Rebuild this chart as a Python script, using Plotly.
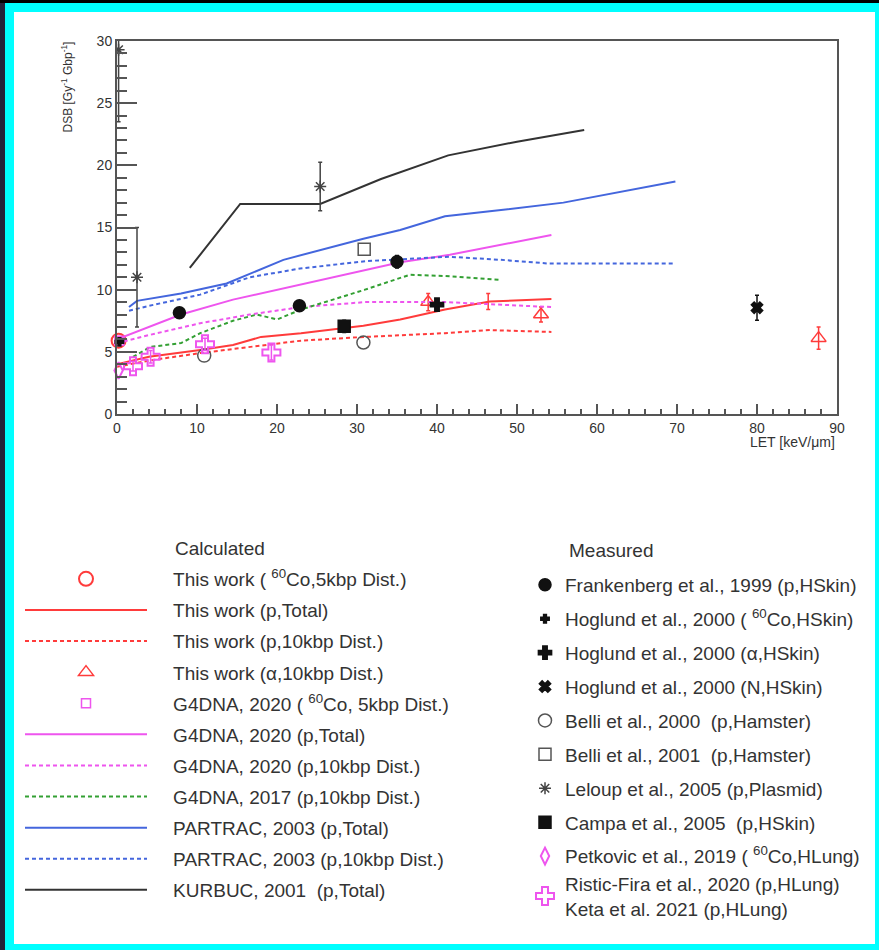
import plotly.graph_objects as go

# ---------------- Calculated curves ----------------
tw_total_x = [0, 4, 10.4, 14.5, 18, 23, 30.8, 35.4, 41, 46.6, 54.3]
tw_total_y = [4.0, 4.6, 5.15, 5.55, 6.2, 6.5, 7.1, 7.6, 8.4, 9.05, 9.25]
tw_10k_x = [0, 4, 10.4, 16.6, 23, 31, 41, 46.6, 54.3]
tw_10k_y = [3.8, 4.3, 4.9, 5.4, 5.9, 6.2, 6.5, 6.75, 6.6]
g20_total_x = [0, 2, 8, 14.5, 23, 31.2, 35.4, 41.6, 54.3]
g20_total_y = [6.0, 6.5, 8.0, 9.2, 10.4, 11.6, 12.2, 12.8, 14.4]
g20_10k_x = [0, 4, 10.4, 16.6, 23, 31, 41, 46.6, 54.3]
g20_10k_y = [5.7, 6.35, 7.3, 8.0, 8.6, 9.0, 9.0, 8.85, 8.6]
g17_10k_x = [2, 4.2, 8, 10.4, 14.5, 17.5, 20, 23, 31, 36.6, 41, 47.7]
g17_10k_y = [4.6, 5.4, 5.7, 6.5, 7.5, 8.0, 7.6, 8.4, 10.0, 11.2, 11.1, 10.8]
partrac_total_x = [1.5, 2.5, 8, 13.7, 20.8, 30.8, 35.4, 41, 46.6, 55.8, 69.8]
partrac_total_y = [8.6, 9.1, 9.7, 10.5, 12.4, 14.1, 14.8, 15.9, 16.3, 17.0, 18.7]
partrac_10k_x = [1.5, 4, 10.4, 16.6, 22.9, 31.2, 41.5, 48, 54, 69.8]
partrac_10k_y = [8.3, 8.7, 9.6, 11.0, 11.7, 12.3, 12.65, 12.4, 12.1, 12.1]
kurbuc_x = [9.1, 15.4, 25.4, 33, 41.4, 50, 58.4]
kurbuc_y = [11.75, 16.9, 16.9, 18.9, 20.8, 21.9, 22.85]

tw_co_x = [0.2]
tw_co_y = [5.9]
tw_alpha_x = [38.9, 53.0, 87.7]
tw_alpha_y = [9.0, 8.0, 6.1]
tw_alpha_err = [0.7, 0.6, 0.9]
tw_alpha_hidden_x = [46.4]
tw_alpha_hidden_y = [9.05]
tw_alpha_hidden_err = [0.65]
g20_co_x = [0.3]
g20_co_y = [5.9]

# ---------------- Measured ----------------
frank_x = [7.8, 22.8, 35.0]
frank_y = [8.15, 8.7, 12.25]
frank_err = [0.0, 0.0, 0.5]
hog_co_x = [0.3]
hog_co_y = [5.8]
hog_a_x = [40.0]
hog_a_y = [8.8]
hog_n_x = [80.0]
hog_n_y = [8.55]
hog_n_err = [1.0]
belli00_x = [10.9, 30.8]
belli00_y = [4.7, 5.75]
belli01_x = [30.9]
belli01_y = [13.25]
leloup_x = [0.2, 2.5, 25.4]
leloup_y = [29.3, 11.0, 18.3]
leloup_err = [5.8, 4.0, 1.95]
campa_x = [28.4]
campa_y = [7.05]
campa_err = [0.5]
petk_x = [0.2]
petk_y = [3.5]
ristic_x = [2.0, 4.2, 11.0, 19.3]
ristic_y = [3.85, 4.6, 5.6, 4.95]
ristic_err = [0.4, 0.5, 0.5, 0.6]

RED = "#ff3b3b"
MAG = "#ee55ee"
GREEN = "#33a033"
BLUE = "#4466dd"
BLK = "#333333"
DOT = "4px,3px"
PAD = "\u00a0" * 4

fig = go.Figure()

def line(x, y, name, color, dash, group):
    fig.add_trace(go.Scatter(x=x, y=y, mode="lines", name=PAD + name,
                             line=dict(color=color, width=2, dash=dash),
                             legend="legend", legendgroup=group))

def mark(x, y, name, symbol, color, size, legend, group, err=None,
         lw=1.5, clip=False, show=True, opacity=1):
    m = dict(symbol=symbol, size=size, color=color, opacity=opacity,
             line=dict(color=color, width=lw))
    kw = {}
    if err is not None:
        kw["error_y"] = dict(type="data", array=err, visible=True,
                             color=color, thickness=1.5, width=2)
    fig.add_trace(go.Scatter(x=x, y=y, mode="markers", name=name, marker=m,
                             legend=legend, legendgroup=group, showlegend=show,
                             cliponaxis=clip, **kw))

# Calculated (legend 1)
mark(tw_co_x, tw_co_y, PAD + "This work ( <sup>60</sup>Co,5kbp Dist.)", "circle-open", RED, 14, "legend", "c1", lw=2)
line(tw_total_x, tw_total_y, "This work (p,Total)", RED, "solid", "c2")
line(tw_10k_x, tw_10k_y, "This work (p,10kbp Dist.)", RED, DOT, "c3")
mark(tw_alpha_x, tw_alpha_y, PAD + "This work (α,10kbp Dist.)", "triangle-up-open", RED, 13, "legend", "c4", err=tw_alpha_err)
mark(tw_alpha_hidden_x, tw_alpha_hidden_y, "hidden", "triangle-up-open", RED, 13, "legend", "c4",
     err=tw_alpha_hidden_err, show=False, opacity=0)
mark(g20_co_x, g20_co_y, PAD + "G4DNA, 2020 ( <sup>60</sup>Co, 5kbp Dist.)", "square-open", MAG, 9, "legend", "c5")
line(g20_total_x, g20_total_y, "G4DNA, 2020 (p,Total)", MAG, "solid", "c6")
line(g20_10k_x, g20_10k_y, "G4DNA, 2020 (p,10kbp Dist.)", MAG, DOT, "c7")
line(g17_10k_x, g17_10k_y, "G4DNA, 2017 (p,10kbp Dist.)", GREEN, DOT, "c8")
line(partrac_total_x, partrac_total_y, "PARTRAC, 2003 (p,Total)", BLUE, "solid", "c9")
line(partrac_10k_x, partrac_10k_y, "PARTRAC, 2003 (p,10kbp Dist.)", BLUE, DOT, "c10")
line(kurbuc_x, kurbuc_y, "KURBUC, 2001  (p,Total)", BLK, "solid", "c11")

# Measured (legend 2)
mark(frank_x, frank_y, "Frankenberg et al., 1999 (p,HSkin)", "circle", "#111111", 12, "legend2", "m1", err=frank_err)
mark(hog_co_x, hog_co_y, "Hoglund et al., 2000 ( <sup>60</sup>Co,HSkin)", "cross", "#111111", 7, "legend2", "m2")
mark(hog_a_x, hog_a_y, "Hoglund et al., 2000 (α,HSkin)", "cross", "#111111", 11, "legend2", "m3")
mark(hog_n_x, hog_n_y, "Hoglund et al., 2000 (N,HSkin)", "x", "#111111", 10, "legend2", "m4", err=hog_n_err)
mark(belli00_x, belli00_y, "Belli et al., 2000  (p,Hamster)", "circle-open", "#555555", 13, "legend2", "m5")
mark(belli01_x, belli01_y, "Belli et al., 2001  (p,Hamster)", "square-open", "#555555", 12, "legend2", "m6")
mark(leloup_x, leloup_y, "Leloup et al., 2005 (p,Plasmid)", "asterisk-open", "#444444", 10, "legend2", "m7",
     err=leloup_err, clip=True)
mark(campa_x, campa_y, "Campa et al., 2005  (p,HSkin)", "square", "#111111", 12, "legend2", "m8", err=campa_err)
mark(petk_x, petk_y, "Petkovic et al., 2019 ( <sup>60</sup>Co,HLung)", "diamond-tall-open", MAG, 12, "legend2", "m9", lw=2)
mark(ristic_x, ristic_y, "Ristic-Fira et al., 2020 (p,HLung)<br>Keta et al. 2021 (p,HLung)", "cross-open", MAG, 15,
     "legend2", "m9", err=ristic_err, lw=2)

W, H = 879, 950
L, R, T, B = 117, 42, 41, 536
PW, PH = W - L - R, H - T - B

def px(xp):
    return (xp - L) / PW

def py(yp):
    return 1 - (yp - T) / PH

shapes = [
    dict(type="rect", xref="paper", yref="paper", x0=px(0), x1=px(5), y0=py(950), y1=py(0),
         fillcolor="#23233a", line=dict(width=0), layer="below"),
    dict(type="rect", xref="paper", yref="paper", x0=px(0), x1=px(879), y0=py(3), y1=py(0),
         fillcolor="#000000", line=dict(width=0), layer="below"),
    dict(type="rect", xref="paper", yref="paper", x0=px(14), x1=px(875), y0=py(944), y1=py(12),
         fillcolor="#ffffff", line=dict(width=0), layer="below"),
]

font_fam = "Liberation Sans, Arial, sans-serif"
LFS = 19
axis_common = dict(showline=True, linecolor="#555555", linewidth=2, mirror=True,
                   ticks="inside", tickcolor="#555555", tickwidth=1.5,
                   showgrid=False, zeroline=False,
                   tickfont=dict(family=font_fam, size=14, color="#333333"))

fig.update_layout(
    width=W, height=H,
    margin=dict(l=L, r=R, t=T, b=B, pad=0, autoexpand=False),
    paper_bgcolor="#00ffff",
    plot_bgcolor="#ffffff",
    shapes=shapes,
    xaxis=dict(range=[0, 90], dtick=10, tick0=0, ticklen=10,
               minor=dict(dtick=2, ticks="inside", ticklen=5, tickcolor="#555555", tickwidth=1.5),
               **axis_common),
    yaxis=dict(range=[0, 30], dtick=5, tick0=0, ticklen=20,
               minor=dict(dtick=1, ticks="inside", ticklen=10, tickcolor="#555555", tickwidth=1.5),
               **axis_common),
    legend=dict(xref="container", yref="container", x=20 / W, y=1 - 560 / H,
                xanchor="left", yanchor="top", itemwidth=122,
                traceorder="grouped", tracegroupgap=3.4,
                bgcolor="rgba(0,0,0,0)",
                font=dict(family=font_fam, size=LFS, color="#333333")),
    legend2=dict(xref="container", yref="container", x=525 / W, y=1 - 566 / H,
                 xanchor="left", yanchor="top", itemwidth=30,
                 traceorder="grouped", tracegroupgap=6.2,
                 bgcolor="rgba(0,0,0,0)",
                 font=dict(family=font_fam, size=LFS, color="#333333")),
    annotations=[
        dict(text="DSB [Gy<sup>-1</sup> Gbp<sup>-1</sup>]", textangle=-90,
             xref="paper", yref="paper", x=px(66), y=py(40), xanchor="center", yanchor="top",
             showarrow=False, font=dict(family=font_fam, size=12, color="#333333")),
        dict(text="LET [keV/μm]", xref="paper", yref="paper", x=1, y=py(432),
             xanchor="right", yanchor="top", showarrow=False,
             font=dict(family=font_fam, size=14, color="#333333")),
        dict(text="Calculated", xref="paper", yref="paper", x=px(173), y=py(548),
             xanchor="left", yanchor="middle", showarrow=False,
             font=dict(family=font_fam, size=LFS, color="#333333")),
        dict(text="Measured", xref="paper", yref="paper", x=px(567), y=py(550),
             xanchor="left", yanchor="middle", showarrow=False,
             font=dict(family=font_fam, size=LFS, color="#333333")),
    ],
)

fig.write_html("out.html")
